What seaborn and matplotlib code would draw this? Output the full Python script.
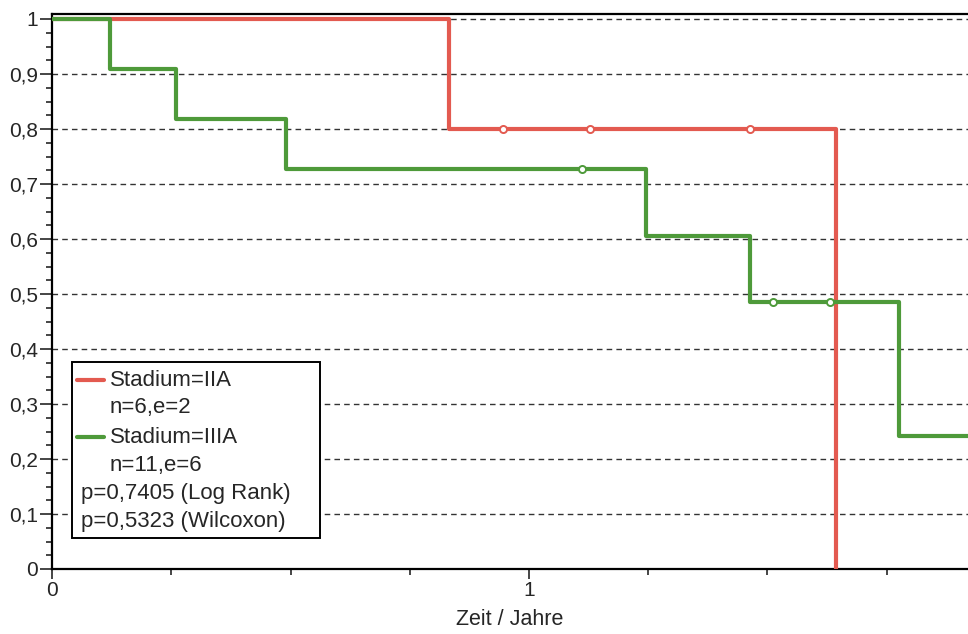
import pandas as pd
import matplotlib.pyplot as plt
import matplotlib.ticker as mticker
from matplotlib.patches import Rectangle
import seaborn as sns

# Kaplan-Meier Stufen: Zeit (Jahre) und Ueberlebensrate
red_t = [0.0, 0.832, 1.644]
red_s = [1.0, 0.8, 0.0]
red_cens_t = [0.945, 1.128, 1.463]
red_cens_s = [0.8, 0.8, 0.8]

green_t = [0.0, 0.122, 0.26, 0.49, 1.245, 1.463, 1.776, 2.0]
green_s = [1.0, 0.909, 0.818, 0.727, 0.606, 0.485, 0.242, 0.242]
green_cens_t = [1.111, 1.512, 1.631]
green_cens_s = [0.727, 0.485, 0.485]

groups = ["Stadium=IIA", "Stadium=IIIA"]
group_info = ["n=6,e=2", "n=11,e=6"]
p_texts = ["p=0,7405 (Log Rank)", "p=0,5323 (Wilcoxon)"]
colors = ["#e35a50", "#4e9a3a"]

y_ticks = [0, 0.1, 0.2, 0.3, 0.4, 0.5, 0.6, 0.7, 0.8, 0.9, 1.0]
y_labels = ["0", "0,1", "0,2", "0,3", "0,4", "0,5", "0,6", "0,7", "0,8", "0,9", "1"]
x_ticks = [0, 1]
x_labels = ["0", "1"]

df = pd.concat([
    pd.DataFrame({"t": red_t, "s": red_s, "g": groups[0]}),
    pd.DataFrame({"t": green_t, "s": green_s, "g": groups[1]}),
])
cens = pd.concat([
    pd.DataFrame({"t": red_cens_t, "s": red_cens_s, "g": groups[0]}),
    pd.DataFrame({"t": green_cens_t, "s": green_cens_s, "g": groups[1]}),
])

sns.set_style("white")
plt.rcParams['font.family'] = ['Liberation Sans', 'DejaVu Sans']

fig = plt.figure(figsize=(9.68, 6.34), dpi=100)
ax = fig.add_axes([52/968, 65/634, 916/968, 555.5/634])

pal = dict(zip(groups, colors))
sns.lineplot(data=df, x="t", y="s", hue="g", palette=pal, estimator=None,
             drawstyle="steps-post", linewidth=3, legend=False, ax=ax, zorder=3)
for g in groups:
    sub = cens[cens["g"] == g]
    sns.scatterplot(data=sub, x="t", y="s", marker="o", s=26, facecolor="white",
                    edgecolor=pal[g], linewidth=1.4, legend=False, ax=ax, zorder=4)

ax.set_yticks(y_ticks)
ax.set_yticklabels(y_labels)
ax.yaxis.set_minor_locator(mticker.MultipleLocator(0.025))
ax.set_xticks(x_ticks)
ax.set_xticklabels(x_labels)
ax.xaxis.set_minor_locator(mticker.MultipleLocator(0.25))

ax.set_xlim(0, 916/477)
ax.set_ylim(0, 1.01)

ax.tick_params(axis="y", which="major", direction="out", length=8.5, width=1.2, pad=1.5, labelsize=15, left=True)
ax.tick_params(axis="y", which="minor", direction="out", length=4.5, width=1.2, left=True)
ax.tick_params(axis="x", which="major", direction="out", length=7, width=1.2, pad=2, labelsize=15, bottom=True)
ax.tick_params(axis="x", which="minor", direction="out", length=4, width=1.2, bottom=True)

ax.grid(axis="y", which="major", color="#333333", linestyle=(0, (4, 3)), linewidth=1.0, zorder=1)
ax.set_axisbelow(True)

for side in ["left", "bottom", "top"]:
    ax.spines[side].set_color("black")
    ax.spines[side].set_linewidth(1.6)
ax.spines["right"].set_visible(False)

ax.set_xlabel("Zeit / Jahre", fontsize=15.5, labelpad=6)
ax.set_ylabel("")

# Legende im Kasten
box = Rectangle((0.0218, 0.0558), 0.2708, 0.3168, transform=ax.transAxes,
                facecolor="white", edgecolor="black", linewidth=1.4, zorder=5)
ax.add_patch(box)
rows = [0.340, 0.290, 0.2376, 0.187, 0.1368, 0.0864]
for i, g in enumerate(groups):
    ax.plot([0.0273, 0.0568], [rows[2*i], rows[2*i]], color=colors[i], lw=3,
            transform=ax.transAxes, zorder=6)
    ax.text(0.0633, rows[2*i], g, transform=ax.transAxes, fontsize=16, va="center", zorder=6)
    ax.text(0.0633, rows[2*i+1], group_info[i], transform=ax.transAxes, fontsize=16, va="center", zorder=6)
for j, p in enumerate(p_texts):
    ax.text(0.0317, rows[4+j], p, transform=ax.transAxes, fontsize=16, va="center", zorder=6)

plt.savefig("out.png", dpi=100)
